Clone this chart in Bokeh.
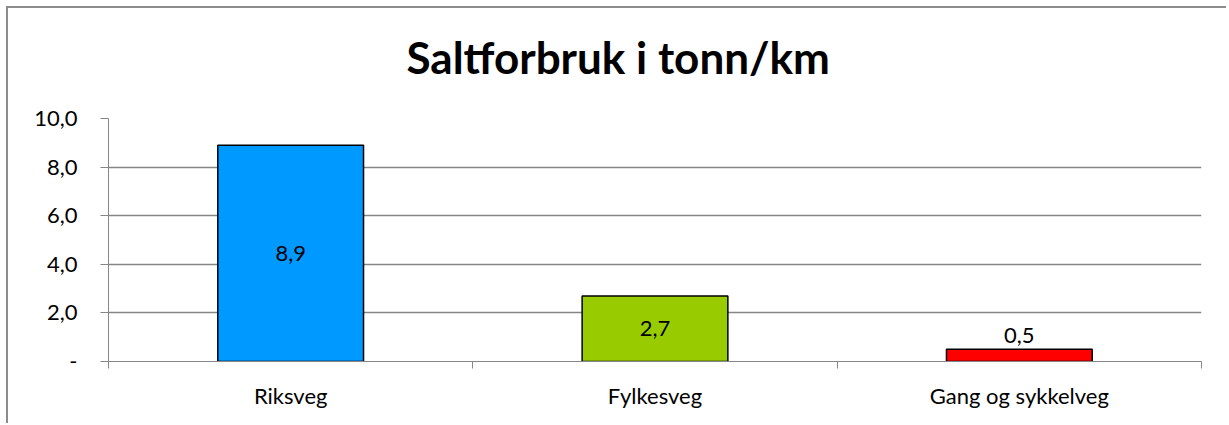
from bokeh.plotting import figure
from bokeh.models import FixedTicker, ColumnDataSource, Title, Range1d
from bokeh.embed import file_html
from bokeh.resources import INLINE
from bokeh.core.properties import value

title_text = "Saltforbruk i tonn/km"
categories = ["Riksveg", "Fylkesveg", "Gang og sykkelveg"]
values = [8.9, 2.7, 0.5]
bar_colors = ["#0099FF", "#99CC00", "#FF0000"]
y_ticks = [0, 2, 4, 6, 8, 10]
y_tick_labels = ["-", "2,0", "4,0", "6,0", "8,0", "10,0"]

FONT = "Lato"
GRAY = "#868686"
FS = "22px"

x = [i + 0.5 for i in range(len(categories))]
labels = [f"{v:.1f}".replace(".", ",") for v in values]
label_y = [v / 2 if v > 1 else v for v in values]
baselines = ["middle" if v > 1 else "bottom" for v in values]
offsets = [0 if v > 1 else -6 for v in values]

src = ColumnDataSource(dict(x=x, top=values, color=bar_colors, label=labels,
                            ly=label_y, base=baselines, off=offsets))

p = figure(width=1220, height=417, output_backend="svg", toolbar_location=None,
           x_range=Range1d(0, len(categories)), y_range=Range1d(0, 10),
           min_border_left=100, min_border_right=27, min_border_top=110,
           min_border_bottom=64, title=None)
p.styles = {"border-left": "2px solid #8c8c8c", "border-top": "2px solid #8c8c8c",
            "margin-left": "6px", "margin-top": "6px"}
p.outline_line_color = None
p.background_fill_color = "white"
p.border_fill_color = "white"

p.add_layout(Title(text=" ", text_font_size="16px", text_font=FONT), "above")
p.add_layout(Title(text=title_text, align="left", offset=298, text_font=FONT,
                   text_font_size="44px", text_font_style="bold",
                   text_color="black"), "above")

p.vbar(x="x", top="top", width=0.4, bottom=0, fill_color="color",
       line_color="black", line_width=1.5, source=src)
p.text(x="x", y="ly", text="label", text_align="center", text_baseline="base",
       y_offset="off", text_font=value(FONT), text_font_size=FS,
       text_color="black", source=src)

# y axis
p.yaxis.ticker = FixedTicker(ticks=y_ticks, minor_ticks=[])
p.yaxis.major_label_overrides = {t: l for t, l in zip(y_ticks, y_tick_labels)}
p.yaxis.axis_line_color = GRAY
p.yaxis.major_tick_line_color = GRAY
p.yaxis.major_tick_out = 8
p.yaxis.major_tick_in = 0
p.yaxis.major_label_standoff = 23
p.yaxis.major_label_text_font = FONT
p.yaxis.major_label_text_font_size = FS
p.yaxis.major_label_text_color = "black"

# x axis
p.xaxis.ticker = FixedTicker(ticks=x, minor_ticks=list(range(len(categories) + 1)))
p.xaxis.major_label_overrides = {t: c for t, c in zip(x, categories)}
p.xaxis.axis_line_color = GRAY
p.xaxis.major_tick_line_color = None
p.xaxis.major_tick_out = 0
p.xaxis.major_tick_in = 0
p.xaxis.minor_tick_line_color = GRAY
p.xaxis.minor_tick_out = 7
p.xaxis.minor_tick_in = 0
p.xaxis.major_label_standoff = 13
p.xaxis.major_label_text_font = FONT
p.xaxis.major_label_text_font_size = FS
p.xaxis.major_label_text_color = "black"

p.xgrid.grid_line_color = None
p.ygrid.ticker = FixedTicker(ticks=y_ticks)
p.ygrid.grid_line_color = GRAY
p.ygrid.grid_line_width = 1.5

open("out.html", "w").write(file_html(p, INLINE))
